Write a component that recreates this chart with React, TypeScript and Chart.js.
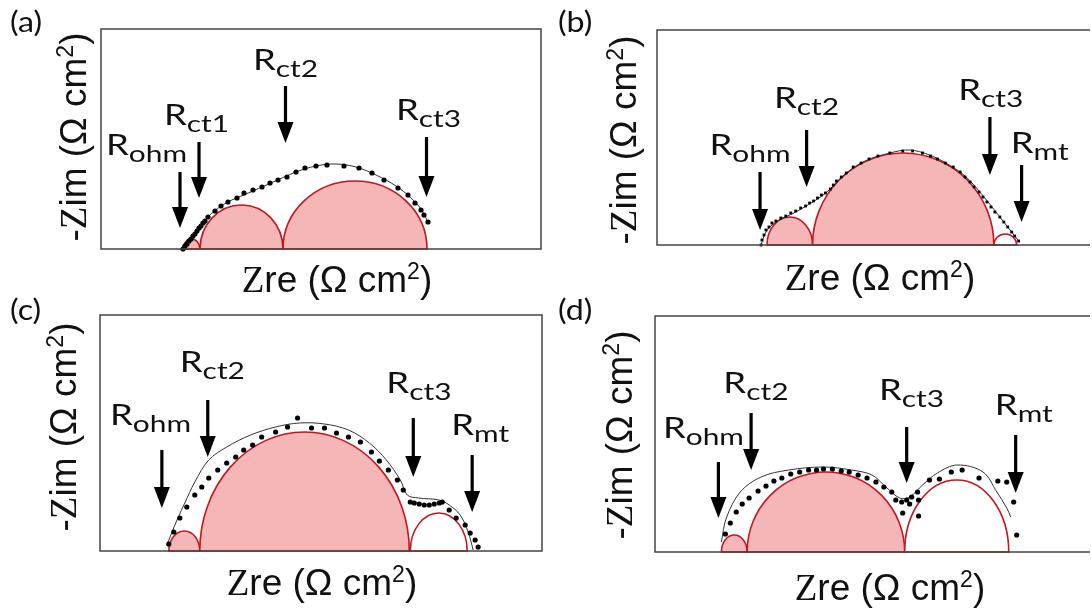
import React, { useEffect, useRef } from "react";
import { Chart, registerables } from "chart.js";
Chart.register(...registerables);

// Units: Zre / -Zim in arbitrary units (no tick labels in the reference)

// ---------- Panel (a) ----------
const aDots = [[82,0],[84,3],[86,5],[88,8],[90,10],[92,13],[94,15],[96,18],[98,21],[100,23],[102,26],[104,28],[107,32],[114,38],[120,43],[127,47],[136,51],[143,56],[152,59],[161,62],[169,66],[177,69],[186,72],[195,77],[204,81],[215,83],[226,84],[243,83],[258,81],[271,76],[283,69],[297,61],[307,54],[314,46],[320,39],[323,34],[327,27]];
const aFit = [[82,0],[90,10],[100,24],[110,35],[125,46],[145,55],[170,66],[195,77],[215,83],[235,85],[255,82],[275,74],[295,63],[310,51],[320,40],[326,29]];
const aArcs = [[82,99,10],[99,182,44],[182,326,68]];
const aMarks = [["ohm",79,77,21,5,94],["ct1",98,107,51,63,124],["ct2",184.5,163,106,152,179],["ct3",325.5,112,52,295,129]];

// ---------- Panel (b) ----------
const bDots = [[105,0],[106,5],[108,10],[110,15],[113,18],[116,22],[120,24],[125,27],[130,29],[135,32],[140,34],[145,37],[150,39],[154,42],[158,44],[162,47],[166,50],[170,52],[175,56],[178,60],[181,64],[186,68],[191,72],[198,78],[206,82],[214,86],[223,89],[235,92],[248,94],[258,94],[268,92],[276,89],[283,86],[291,82],[299,78],[306,73],[311,68],[316,63],[320,58],[325,53],[329,48],[333,43],[337,38],[341,33],[346,28],[350,23],[354,18],[358,13],[361,9],[365,4]];
const bFit = [[105,0],[110,13],[120,23],[140,33],[165,48],[178,59],[190,71],[210,84],[235,92],[255,95],[275,90],[295,80],[312,68],[330,48],[350,23],[365,4]];
const bArcs = [[111,157,28],[157,340,92],[340,363,11]];
const bMarks = [["ohm",104,73,15,53,90],["ct2",151,115,58,118,137],["ct3",336,128,70,304,145],["mt",368,80,23,357,92]];

// ---------- Panel (c) ----------
const cDots = [[69,7],[74,19],[80,33],[87,44],[95,56],[102,64],[109,73],[118,81],[127,88],[136,94],[144,101],[153,106],[162,114],[176,119],[188,124],[198,133],[212,123],[225,123],[237,118],[249,114],[261,109],[272,99],[280,90],[289,81],[298,71],[304,61],[311,49],[315,48],[320,47],[325,46],[330,46],[335,47],[340,48],[343,49],[350,41],[357,33],[366,26],[371,18],[376,11],[379,4]];
const cFit = [[67,6],[71,16],[78,33],[85,48],[95,69],[109,91],[127,104],[151,116],[176,124],[200,128],[225,127],[249,121],[270,108],[287,91],[301,71],[308,56],[319,53],[340,51],[350,46],[361,36],[369,19],[374,1]];
const cArcs = [[69,100,20],[100,310,119],[311,368,38]];
const cMarks = [["ohm",62,101,43,10,126],["ct2",108,151,94,80,179],["ct3",314,133,74,287,158],["mt",373,96,39,352,116]];

// ---------- Panel (d) ----------
const dDots = [[71,18],[76,29],[82,40],[88,48],[95,54],[104,61],[112,66],[120,71],[128,74],[137,78],[146,80],[155,82],[163,82],[170,83],[179,83],[188,81],[196,80],[205,77],[214,74],[223,70],[231,65],[239,60],[243,52],[249,50],[254,52],[259,55],[265,60],[266,52],[257,48],[250,39],[266,36],[277,72],[287,73],[299,80],[310,82],[327,74],[346,71],[355,70],[362,50],[365,17]];
const dFit = [[67,10],[72,34],[86,60],[107,75],[135,82],[170,85],[198,82],[219,77],[233,65],[247,54],[257,55],[270,67],[285,79],[305,87],[331,80],[345,60],[355,44],[359,35]];
const dArcs = [[67,93,17],[93,252,80],[252,357,72]];
const dMarks = [["ohm",64,90,34,8,114],["ct2",97,139,82,69,159],["ct3",254,125,69,226,152],["mt",364,117,59,343,137]];

type Panel = {
  key: string; left: number; top: number; w: number; h: number;
  box: { l: number; t: number; r: number; b: number }; rightEdge: boolean;
  tag: string; tagX: number; tagY: number; xt: number[]; yt: number[];
  dots: number[][]; fit: number[][]; arcs: number[][]; filled: boolean[];
  marks: any[]; square: boolean;
};

const PANELS: Panel[] = [
  { key: "a", left: 0, top: 0, w: 546, h: 305, box: { l: 101, t: 29, r: 541, b: 249 }, rightEdge: true,
    tag: "(a)", tagX: 10, tagY: 32, xt: [337, 292], yt: [86, 137],
    dots: aDots, fit: aFit, arcs: aArcs, filled: [true, true, true], marks: aMarks, square: false },
  { key: "b", left: 546, top: 0, w: 546, h: 305, box: { l: 657, t: 30, r: 1092, b: 245 }, rightEdge: false,
    tag: "(b)", tagX: 558, tagY: 32, xt: [880, 290], yt: [636, 140],
    dots: bDots, fit: bFit, arcs: bArcs, filled: [true, true, false], marks: bMarks, square: true },
  { key: "c", left: 0, top: 290, w: 546, h: 320, box: { l: 100, t: 315, r: 543, b: 551 }, rightEdge: true,
    tag: "(c)", tagX: 10, tagY: 320, xt: [322, 595], yt: [76, 427],
    dots: cDots, fit: cFit, arcs: cArcs, filled: [true, true, false], marks: cMarks, square: false },
  { key: "d", left: 546, top: 290, w: 546, h: 320, box: { l: 655, t: 316, r: 1092, b: 552 }, rightEdge: false,
    tag: "(d)", tagX: 558, tagY: 320, xt: [890, 600], yt: [632, 435],
    dots: dDots, fit: dFit, arcs: dArcs, filled: [true, true, false], marks: dMarks, square: false },
];

const PINK = "rgb(245,182,184)";
const RED = "rgb(196,22,30)";
const SX = 1.3;
const TS = 37;

type Run = { t: string; f: string; dy?: number };
function drawRuns(ctx: CanvasRenderingContext2D, runs: Run[], x: number, y: number, center: boolean) {
  let w = 0;
  for (const r of runs) { ctx.font = r.f; w += ctx.measureText(r.t).width; }
  let cx = center ? x - w / 2 : x;
  for (const r of runs) {
    ctx.font = r.f;
    ctx.fillText(r.t, cx, y + (r.dy || 0));
    cx += ctx.measureText(r.t).width;
  }
}
function stretched(ctx: CanvasRenderingContext2D, t: string, x: number, y: number, font: string, sx: number = SX) {
  ctx.save();
  ctx.translate(x, y);
  ctx.scale(sx, 1);
  ctx.font = font;
  ctx.fillText(t, 0, 0);
  const w = ctx.measureText(t).width * sx;
  ctx.restore();
  return w;
}

const serif = `${TS}px "Liberation Serif", "DejaVu Serif", serif`;
const sans = `${TS}px "Liberation Sans", Arial, sans-serif`;
const sup = `${Math.round(TS * 0.62)}px "Liberation Sans", Arial, sans-serif`;
const xTitleRuns: Run[] = [
  { t: "Z", f: serif }, { t: "re (", f: sans }, { t: "\u03A9", f: sans }, { t: " cm", f: sans },
  { t: "2", f: sup, dy: -TS * 0.36 }, { t: ")", f: sans },
];
const yTitleRuns: Run[] = [
  { t: "-", f: sans }, { t: "Z", f: serif }, { t: "im (", f: sans }, { t: "\u03A9", f: sans }, { t: " cm", f: sans },
  { t: "2", f: sup, dy: -TS * 0.36 }, { t: ")", f: sans },
];

function makePlugin(p: Panel) {
  return {
    id: "panel_" + p.key,
    beforeDatasetsDraw(chart: any) {
      const { ctx } = chart;
      const xs = chart.scales.x, ys = chart.scales.y;
      ctx.save();
      p.arcs.forEach((a, i) => {
        const x0 = xs.getPixelForValue(a[0]);
        const x1 = xs.getPixelForValue(a[1]);
        const base = ys.getPixelForValue(0);
        const top = ys.getPixelForValue(a[2]);
        ctx.beginPath();
        ctx.ellipse((x0 + x1) / 2, base, (x1 - x0) / 2, base - top, 0, Math.PI, 2 * Math.PI);
        ctx.closePath();
        ctx.fillStyle = p.filled[i] ? PINK : "#ffffff";
        ctx.fill();
        ctx.strokeStyle = RED;
        ctx.lineWidth = 1.6;
        ctx.stroke();
      });
      ctx.restore();
    },
    afterDatasetsDraw(chart: any) {
      const { ctx, chartArea } = chart;
      const xs = chart.scales.x, ys = chart.scales.y;
      ctx.save();
      // frame
      ctx.strokeStyle = "#444";
      ctx.lineWidth = 1.5;
      ctx.beginPath();
      ctx.moveTo(chartArea.right + (p.rightEdge ? 0 : 2), chartArea.top);
      ctx.lineTo(chartArea.left, chartArea.top);
      ctx.lineTo(chartArea.left, chartArea.bottom);
      ctx.lineTo(chartArea.right + (p.rightEdge ? 0 : 2), chartArea.bottom);
      if (p.rightEdge) ctx.closePath();
      ctx.stroke();
      // arrows and labels
      for (const m of p.marks) {
        const X = xs.getPixelForValue(m[1]);
        const T = ys.getPixelForValue(m[2]);
        const P = ys.getPixelForValue(m[3]);
        ctx.fillStyle = "#000";
        ctx.strokeStyle = "#000";
        ctx.lineWidth = 3.2;
        ctx.beginPath();
        ctx.moveTo(X, T);
        ctx.lineTo(X, P - 16);
        ctx.stroke();
        ctx.beginPath();
        ctx.moveTo(X - 8, P - 21);
        ctx.lineTo(X + 8, P - 21);
        ctx.lineTo(X, P);
        ctx.closePath();
        ctx.fill();
        const lx = xs.getPixelForValue(m[4]);
        const ly = ys.getPixelForValue(m[5]);
        ctx.fillStyle = "#111";
        const w = stretched(ctx, "R", lx, ly, "28px Lato");
        stretched(ctx, m[0], lx + w, ly + 7, "23px Lato");
      }
      // tag
      ctx.fillStyle = "#111";
      stretched(ctx, p.tag, p.tagX - p.left, p.tagY - p.top, "28px Lato", 1.15);
      // axis titles
      ctx.textBaseline = "alphabetic";
      drawRuns(ctx, xTitleRuns, p.xt[0] - p.left, p.xt[1] - p.top, true);
      ctx.save();
      ctx.translate(p.yt[0] - p.left, p.yt[1] - p.top);
      ctx.rotate(-Math.PI / 2);
      drawRuns(ctx, yTitleRuns, 0, 0, true);
      ctx.restore();
      ctx.restore();
    },
  };
}

function PanelChart({ p }: { p: Panel }) {
  const ref = useRef<HTMLCanvasElement>(null);
  useEffect(() => {
    const canvas = ref.current;
    if (!canvas) return;
    const W = p.box.r - p.box.l;
    const H = p.box.b - p.box.t;
    const chart = new Chart(canvas, {
      type: "scatter",
      data: {
        datasets: [
          {
            data: p.dots.map((d) => ({ x: d[0], y: d[1] })),
            pointRadius: p.square ? 2 : 2.6,
            pointStyle: p.square ? "rect" : "circle",
            pointBackgroundColor: "#000",
            pointBorderWidth: 0,
            showLine: false,
            clip: false as any,
          },
          {
            data: p.fit.map((d) => ({ x: d[0], y: d[1] })),
            showLine: true,
            pointRadius: 0,
            borderColor: "#333",
            borderWidth: 1,
            tension: 0.35,
            fill: false,
            clip: false as any,
          },
        ],
      },
      options: {
        responsive: false,
        animation: false,
        devicePixelRatio: 1,
        events: [],
        layout: {
          padding: {
            left: p.box.l - p.left,
            top: p.box.t - p.top,
            right: p.left + p.w - p.box.r,
            bottom: p.top + p.h - p.box.b,
          },
        },
        plugins: { legend: { display: false }, tooltip: { enabled: false }, title: { display: false } },
        scales: {
          x: { type: "linear", min: 0, max: W, display: false },
          y: { type: "linear", min: 0, max: H, display: false },
        },
      },
      plugins: [makePlugin(p)],
    } as any);
    return () => chart.destroy();
  }, [p]);
  return (
    <canvas
      ref={ref}
      width={p.w}
      height={p.h}
      style={{ position: "absolute", left: p.left, top: p.top, width: p.w, height: p.h }}
    />
  );
}

export default function App() {
  return (
    <div style={{ position: "absolute", left: 0, top: 0, width: 1092, height: 610, background: "#fff", overflow: "hidden" }}>
      {PANELS.map((p) => (
        <PanelChart key={p.key} p={p} />
      ))}
    </div>
  );
}
